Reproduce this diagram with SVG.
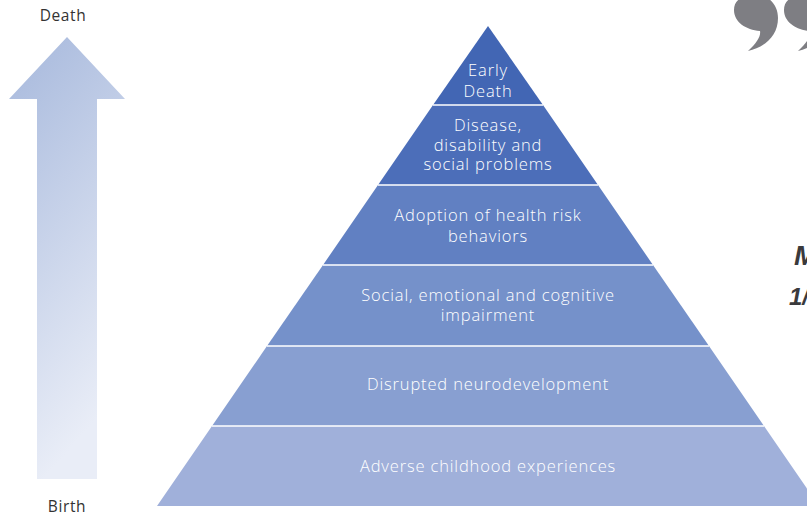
<svg xmlns="http://www.w3.org/2000/svg" width="807" height="516" viewBox="0 0 807 516">
<defs>
<linearGradient id="ag" x1="0" y1="0" x2="0.3" y2="1">
<stop offset="0" stop-color="#A6B8DC"/>
<stop offset="1" stop-color="#E9EDF7"/>
</linearGradient>
<style>
.lbl{font-family:"Open Sans",Lato,sans-serif;font-weight:300;font-size:16.5px;letter-spacing:0.85px;fill:#FFFFFF;text-anchor:middle}
.side{font-family:"Open Sans",Lato,sans-serif;font-weight:400;font-size:15.5px;letter-spacing:0.6px;fill:#333333;text-anchor:middle}
.sep{stroke:#FFFFFF;stroke-width:1.5}
.q{font-family:"Liberation Sans",Arial,sans-serif;font-weight:bold;font-style:italic;fill:#3A3A3C}
</style>
</defs>
<rect width="807" height="516" fill="#FFFFFF"/>
<g id="arrow">
<polygon points="67,37 125,99 97,99 97,479 37,479 37,99 9,99" fill="url(#ag)"/>
<text class="side" x="63" y="21">Death</text>
<text class="side" x="67" y="512">Birth</text>
</g>
<g id="quote" fill="#7E7E83">
<path d="M756,-5 C770,-5 778,6 778,18 C778,36 765,47 748,51 C757,43 761,36 760,31 C746,30 734,22 734,10 C734,0 742,-5 756,-5 Z"/>
<path d="M806,-5 C820,-5 828,6 828,18 C828,36 815,47 798,51 C807,43 811,36 810,31 C796,30 784,22 784,10 C784,0 792,-5 806,-5 Z"/>
</g>
<g id="partial-text">
<text class="q" x="794" y="265" font-size="28">M</text>
<text class="q" x="789" y="305" font-size="24">1/</text>
</g>
<g id="layer6"><polygon points="157,506 819,506 764,426 212,426" fill="#A0B0DA"/><text class="lbl" x="488" y="472">Adverse childhood experiences</text></g>
<g id="layer5"><polygon points="212,426 764,426 709,346 267,346" fill="#889FD1"/><text class="lbl" x="488" y="390">Disrupted neurodevelopment</text></g>
<g id="layer4"><polygon points="267,346 709,346 653,265 323,265" fill="#7591CA"/><text class="lbl" x="488" y="301">Social, emotional and cognitive</text><text class="lbl" x="488" y="321">impairment</text></g>
<g id="layer3"><polygon points="323,265 653,265 598,185 378,185" fill="#6180C2"/><text class="lbl" x="488" y="221">Adoption of health risk</text><text class="lbl" x="488" y="242">behaviors</text></g>
<g id="layer2"><polygon points="378,185 598,185 543,105 433,105" fill="#4C6EB9"/><text class="lbl" x="488" y="131">Disease,</text><text class="lbl" x="488" y="151">disability and</text><text class="lbl" x="488" y="170">social problems</text></g>
<g id="layer1"><polygon points="433,105 543,105 488,26" fill="#4266B4"/><text class="lbl" x="488" y="76">Early</text><text class="lbl" x="488" y="97">Death</text></g>
<g id="separators">
<line class="sep" x1="433" y1="105" x2="543" y2="105"/>
<line class="sep" x1="378" y1="185" x2="598" y2="185"/>
<line class="sep" x1="323" y1="265" x2="653" y2="265"/>
<line class="sep" x1="267" y1="346" x2="709" y2="346"/>
<line class="sep" x1="212" y1="426" x2="764" y2="426"/>
</g>
</svg>
